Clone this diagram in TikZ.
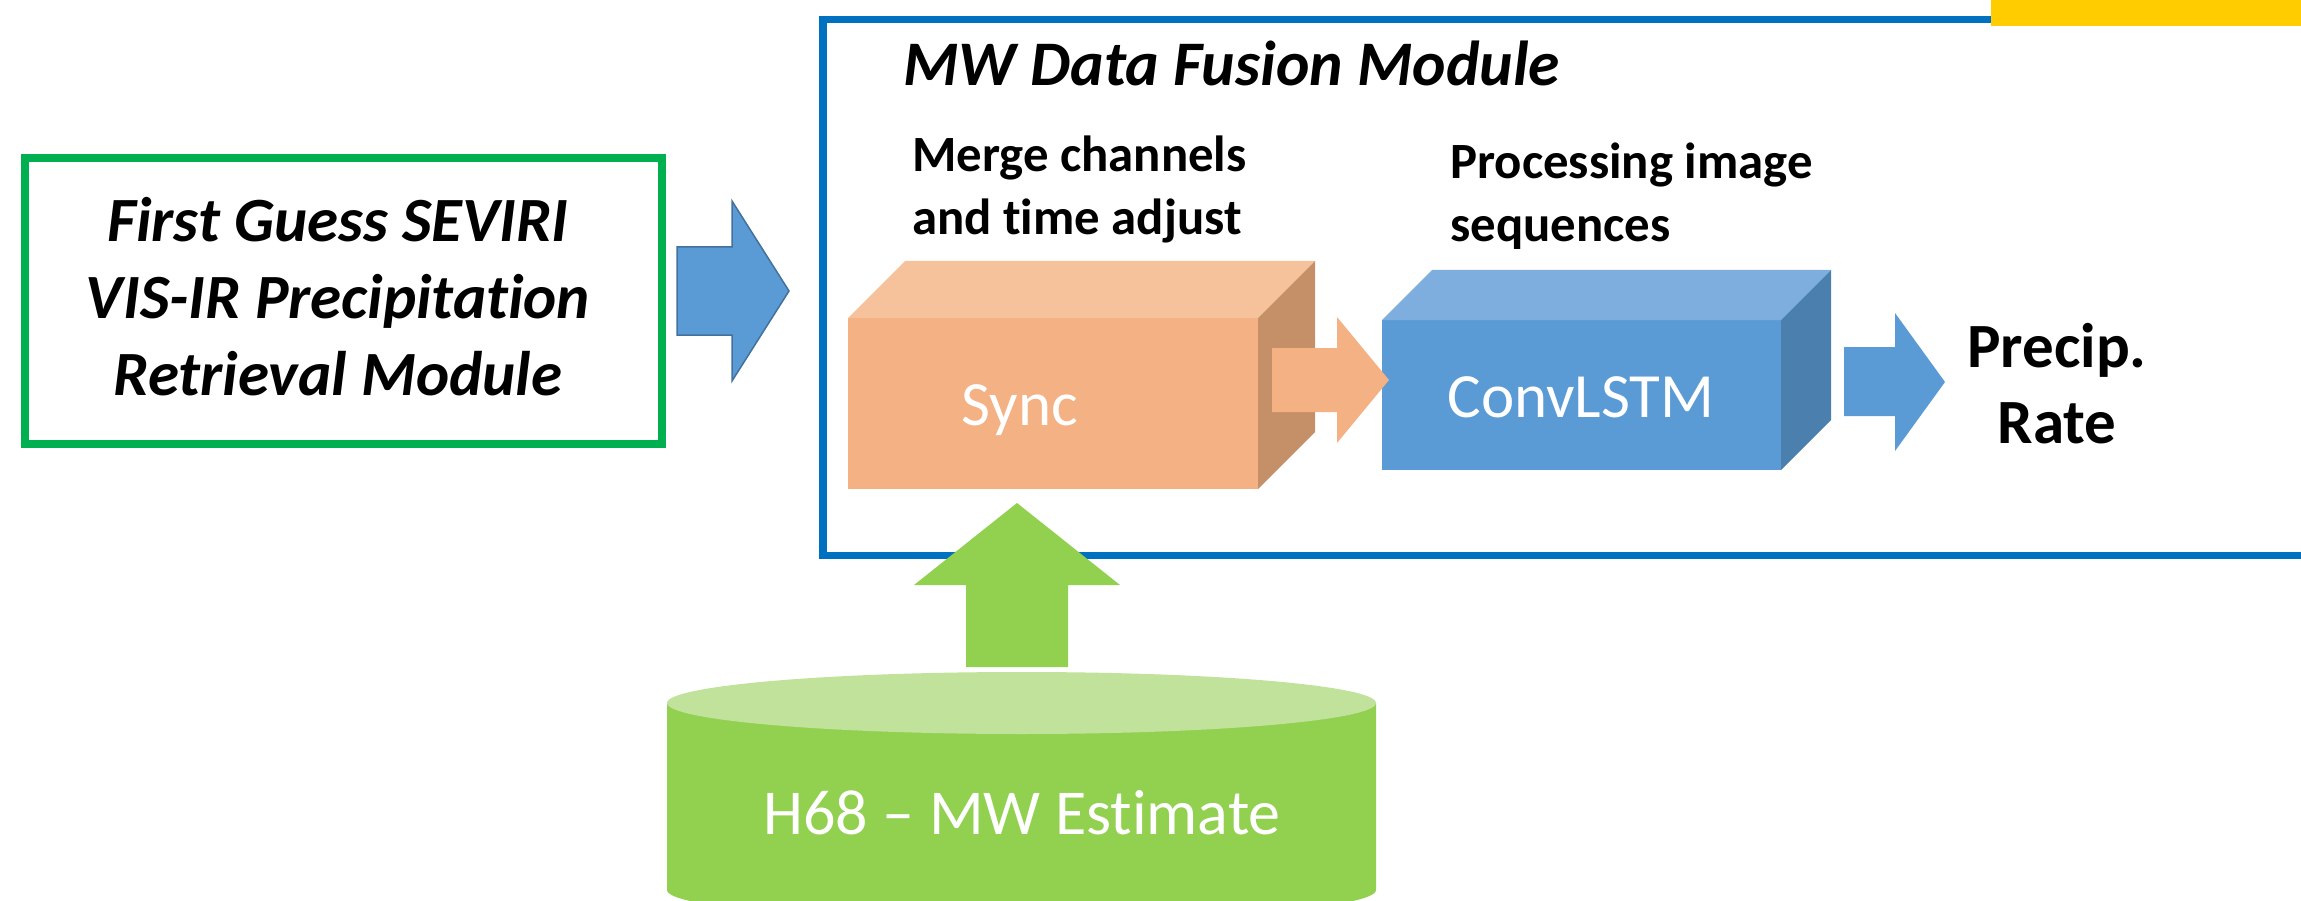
\documentclass[tikz,border=0pt]{standalone}
\usepackage{fontspec}
\setmainfont{Carlito}[Ligatures=NoCommon]
\definecolor{gbox}{HTML}{00B050}
\definecolor{bbox}{HTML}{0070C0}
\definecolor{orF}{HTML}{F4B183}
\definecolor{orT}{HTML}{F6C29C}
\definecolor{orS}{HTML}{C58F67}
\definecolor{blF}{HTML}{5B9BD5}
\definecolor{blT}{HTML}{7DAEDD}
\definecolor{blS}{HTML}{4A7FAE}
\definecolor{blO}{HTML}{41719C}
\definecolor{grS}{HTML}{92D050}
\definecolor{grT}{HTML}{C0E29A}
\definecolor{yel}{HTML}{FFCC00}
\tikzset{
  lbl/.style={inner sep=0pt, font=\bfseries\fontsize{50.8}{63}\selectfont},
  fgtext/.style={inner sep=0pt, anchor=base, font=\bfseries\itshape\fontsize{63}{76}\selectfont},
  wtext/.style={inner sep=0pt, anchor=base, text=white, font=\fontsize{63}{76}\selectfont},
}
\begin{document}
\begin{tikzpicture}[x=1pt,y=-1pt]
\useasboundingbox (0,0) rectangle (2301,901);
\clip (0,0) rectangle (2301,901);
% green module box
\draw[gbox, line width=8pt] (24.5,158) rectangle (662,443.5);
% blue fusion module box
\draw[bbox, line width=7.5pt] (823,19.5) rectangle (2420,555.5);
% left blue arrow
\draw[blO, line width=1.5pt, fill=blF] (677,247) -- (732,247) -- (732,201) -- (789,291) -- (732,381) -- (732,335) -- (677,335) -- cycle;
% Sync cuboid
\fill[orF] (848,318) rectangle (1258,489);
\fill[orT] (848,318) -- (905,261) -- (1315,261) -- (1258,318) -- cycle;
\fill[orS] (1258,318) -- (1315,261) -- (1315,432) -- (1258,489) -- cycle;
\node[wtext] (sync) at (1020,425) {Sync};
% ConvLSTM cuboid
\fill[blF] (1382,320) rectangle (1781,470);
\fill[blT] (1382,320) -- (1432,270) -- (1831,270) -- (1781,320) -- cycle;
\fill[blS] (1781,320) -- (1831,270) -- (1831,420) -- (1781,470) -- cycle;
\node[wtext] (conv) at (1581,417) {ConvLSTM};
% orange arrow
\fill[orF] (1272,348) -- (1337,348) -- (1337,317) -- (1389,380) -- (1337,443) -- (1337,412) -- (1272,412) -- cycle;
% right blue arrow
\fill[blF] (1844,347) -- (1895,347) -- (1895,313) -- (1945,382) -- (1895,451) -- (1895,416) -- (1844,416) -- cycle;
% green up arrow
\fill[grS] (966,667) -- (966,585) -- (914,585) -- (1017,503) -- (1120,585) -- (1068,585) -- (1068,667) -- cycle;
% cylinder
\fill[grS] (667,703) -- (667,890) arc[start angle=180, end angle=0, x radius=354.5, y radius=31] -- (1376,703) -- cycle;
\fill[grT] (1021.5,703) ellipse [x radius=354.5, y radius=31];
\node[wtext, font=\fontsize{64}{76}\selectfont] (h68) at (1022,834) {H68 – MW Estimate};
% texts
\node[fgtext] (fg1) at (338,242) {First Guess SEVIRI};
\node[fgtext] (fg2) at (338,318) {VIS-IR Precipitation};
\node[fgtext] (fg3) at (338,395) {Retrieval Module};
\node[inner sep=0pt, anchor=base west, font=\bfseries\itshape\fontsize{63.5}{76}\selectfont] (title) at (903,86) {MW Data Fusion Module};
\node[lbl, anchor=base west] (m1) at (912,172) {Merge channels};
\node[lbl, anchor=base west] (m2) at (912,235) {and time adjust};
\node[lbl, anchor=base west] (p1) at (1450,179) {Processing image};
\node[lbl, anchor=base west] (p2) at (1450,242) {sequences};
\node[inner sep=0pt, anchor=base, font=\bfseries\fontsize{63}{76}\selectfont] (pr1) at (2057,367) {Precip.};
\node[inner sep=0pt, anchor=base, font=\bfseries\fontsize{63}{76}\selectfont] (pr2) at (2057,443) {Rate};
% yellow corner
\fill[yel] (1991,0) rectangle (2301,26);
\end{tikzpicture}
\end{document}
